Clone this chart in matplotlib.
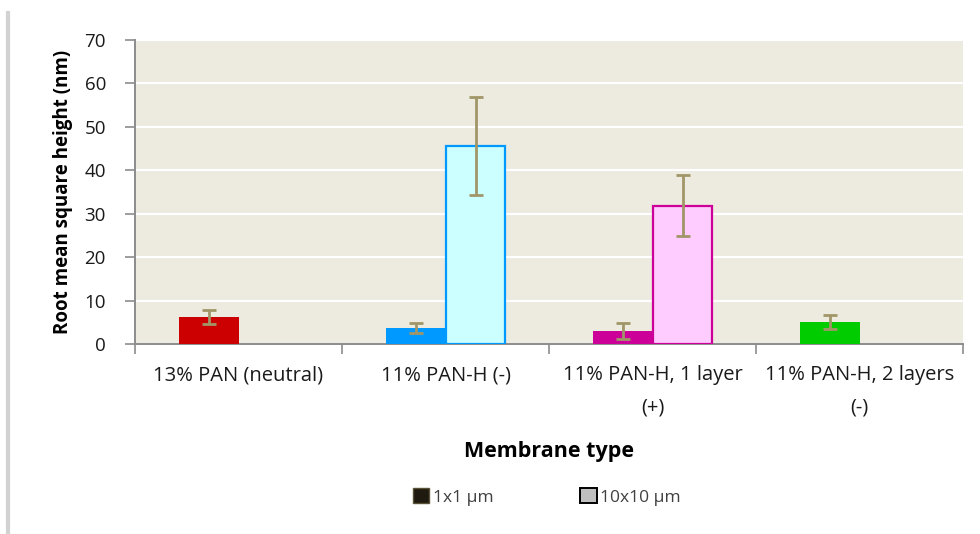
import numpy as np
import matplotlib
matplotlib.use("Agg")
import matplotlib.pyplot as plt
from matplotlib.patches import Patch
from matplotlib.lines import Line2D

plt.rcParams['font.family'] = ['Open Sans', 'DejaVu Sans']

# data
categories = ['13% PAN (neutral)', '11% PAN-H (-)', '11% PAN-H, 1 layer\n(+)', '11% PAN-H, 2 layers\n(-)']
small_scan = [6.3, 3.75, 3.05, 5.15]        # 1x1 um
small_err = [1.7, 1.15, 1.85, 1.55]
large_scan = [0, 45.6, 31.9, 0]             # 10x10 um
large_err = [0, 11.3, 7.0, 0]
series_names = ['1x1 µm', '10x10 µm']

small_colors = ['#CC0000', '#0099FF', '#CC0099', '#00CC00']
large_fill = ['#CCFFFF', '#CCFFFF', '#FFCCFF', '#FFCCFF']
large_edge = ['#0099FF', '#0099FF', '#CC0099', '#CC0099']
err_color = '#A09668'

fig = plt.figure(figsize=(9.8, 5.34), dpi=100)
ax = fig.add_axes([0.1378, 0.3552, 0.8449, 0.5699])
ax.set_facecolor('#EDEADF')

x = np.arange(len(categories)) + 0.5
w = 0.29

ax.bar(x - w / 2, small_scan, w, color=small_colors, zorder=3)
ax.errorbar(x - w / 2, small_scan, yerr=small_err, fmt='none', ecolor=err_color,
            elinewidth=2, capsize=5, capthick=2, zorder=4)

for i, v in enumerate(large_scan):
    if v > 0:
        ax.bar(x[i] + w / 2, v, w * 0.97, color=large_fill[i], edgecolor=large_edge[i],
               linewidth=1.6, zorder=3)
        ax.errorbar(x[i] + w / 2, v, yerr=large_err[i], fmt='none', ecolor=err_color,
                    elinewidth=2, capsize=5, capthick=2, zorder=4)

ax.set_xlim(0, len(categories))
ax.set_ylim(0, 70)
ax.set_yticks(range(0, 71, 10))
ax.yaxis.grid(True, color='white', linewidth=1.6, zorder=1)
ax.set_axisbelow(True)

ax.set_xticks(x)
ax.set_xticklabels(categories, fontsize=14.5, color='#1a1a1a', linespacing=1.8)
ax.set_xticks(np.arange(len(categories) + 1), minor=True)
ax.tick_params(axis='x', which='major', length=0, pad=15)
ax.tick_params(axis='x', which='minor', length=7, width=1.2, color='#8c8c8c')
ax.tick_params(axis='y', length=7, width=1.2, color='#8c8c8c', labelsize=13.5,
               labelcolor='#1a1a1a', pad=14)

for side in ['top', 'right']:
    ax.spines[side].set_visible(False)
for side in ['left', 'bottom']:
    ax.spines[side].set_color('#8c8c8c')
    ax.spines[side].set_linewidth(1.4)

ax.set_ylabel('Root mean square height (nm)', fontsize=13.5, fontweight='bold', labelpad=8)
ax.set_xlabel('Membrane type', fontsize=15.5, fontweight='bold', labelpad=17)

handles = [Patch(facecolor='#1E1A10', edgecolor='#5A5236', linewidth=1.0),
           Patch(facecolor='#C0C0C0', edgecolor='#000000', linewidth=1.4)]
fig.legend(handles, series_names, loc='center', bbox_to_anchor=(0.558, 0.069), ncol=2,
           frameon=False, fontsize=12.5, labelcolor='#404040', handlelength=0.95,
           handleheight=0.95, handletextpad=0.2, columnspacing=5.0)

# chart-area shadow on the left edge
fig.add_artist(Line2D([0.008, 0.008], [0.0, 0.975], color='#D2D2D2', linewidth=3,
                      transform=fig.transFigure))

fig.savefig('out.png', dpi=100)
